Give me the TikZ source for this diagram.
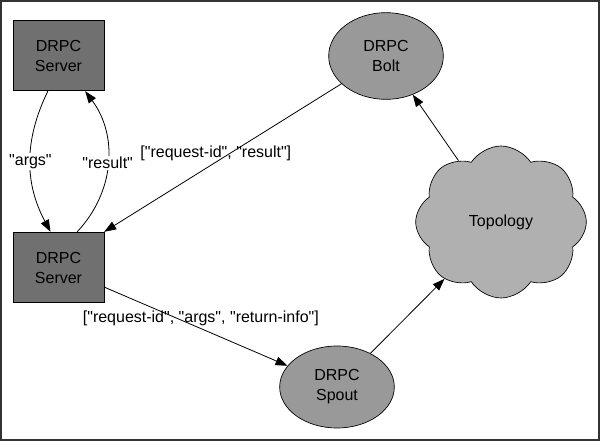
\documentclass[tikz,border=0pt]{standalone}
\usepackage{fontspec}
\setmainfont{Liberation Sans}
\usetikzlibrary{arrows.meta,shapes.geometric,shapes.symbols}
\definecolor{boxgray}{HTML}{707070}
\definecolor{ovalgray}{HTML}{999999}
\definecolor{cloudgray}{HTML}{B0B0B0}
\definecolor{frame}{HTML}{333333}
\newcommand{\qt}[1]{\textquotedbl#1\textquotedbl}

\begin{document}
\begin{tikzpicture}[x=.75pt,y=-.75pt,
  every node/.style={font=\fontsize{12}{15}\selectfont,align=center,text=black},
  srvbox/.style={draw=black,line width=.5pt,fill=boxgray,minimum width=68pt,minimum height=53pt},
  oval/.style={ellipse,draw=black,line width=.5pt,fill=ovalgray,minimum width=86pt},
  arr/.style={line width=.6pt,-{Triangle[length=9pt,width=6.5pt]}}]
\draw[frame,line width=1.5pt,fill=white] (1,1) rectangle (599,440);
\node[srvbox] (srvtop) at (58.5,55.5) {DRPC\\Server};
\node[srvbox] (srvbot) at (58.5,267.5) {DRPC\\Server};
\node[oval,minimum height=65pt] (bolt) at (386,56) {DRPC\\Bolt};
\node[oval,minimum height=61.5pt] (spout) at (337,387) {DRPC\\Spout};
\node[cloud,cloud puffs=8,cloud puff arc=115,draw=black,line width=.5pt,fill=cloudgray,
  minimum width=128pt,minimum height=114pt] (topo) at (501,222) {Topology};
\draw[arr] ([xshift=-8]srvtop.south) to[bend right=27] node[fill=white,inner sep=1pt] {\qt{args}} ([xshift=-6]srvbot.north);
\draw[arr] ([xshift=14]srvbot.north) to[bend right=40] node[fill=white,inner sep=1pt] {\qt{result}} ([xshift=20]srvtop.south);
\draw[arr] (bolt) -- node[shift={(-7,-4)}] {[\qt{request-id}, \qt{result}]} (srvbot.north east);
\draw[arr] (srvbot) -- node[shift={(5,-8)}] {[\qt{request-id}, \qt{args}, \qt{return-info}]} (spout);
\draw[arr] (spout) -- (topo);
\draw[arr] (topo) -- (bolt);
\end{tikzpicture}
\end{document}
